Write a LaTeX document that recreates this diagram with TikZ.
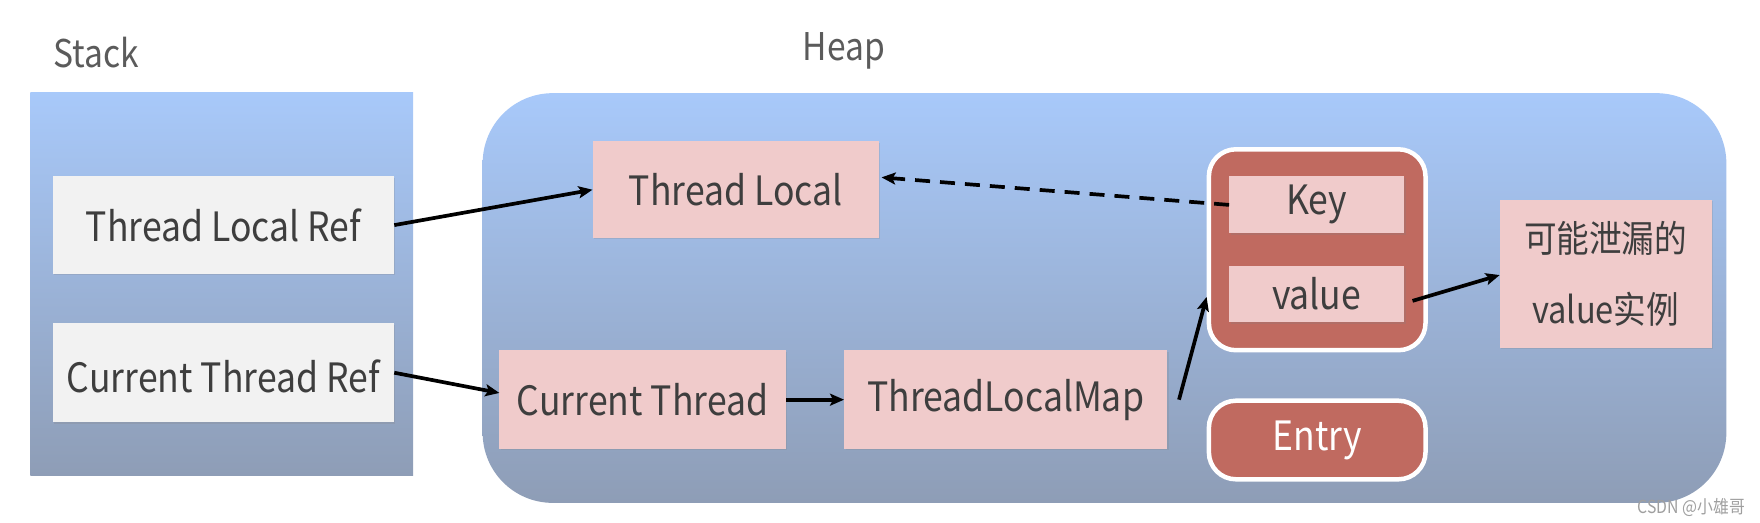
\documentclass[tikz,border=0pt]{standalone}
\usepackage{fontspec}
\setmainfont{Noto Sans CJK SC}[FakeStretch=0.88]
\usetikzlibrary{arrows.meta,shadows}
\definecolor{bluetop}{RGB}{168,201,250}
\definecolor{bluebot}{RGB}{142,157,182}
\definecolor{pinkbox}{RGB}{240,203,203}
\definecolor{graybox}{RGB}{242,242,242}
\definecolor{entryred}{RGB}{192,106,96}
\definecolor{txt}{RGB}{62,62,62}
\tikzset{
  base/.style={inner sep=0pt, text=txt, font=\fontsize{36}{42}\selectfont,
    drop shadow={opacity=0.22, shadow xshift=1.5pt, shadow yshift=-1.5pt}},
  graynode/.style={base, fill=graybox},
  pinknode/.style={base, fill=pinkbox},
  rednode/.style={base, fill=entryred, draw=white, line width=4.5pt, rounded corners=27pt, text=white, drop shadow={opacity=0}},
  arr/.style={line width=3.7pt, -{Stealth[length=14pt,width=12pt,inset=3pt]}},
  title/.style={text=txt!85, font=\fontsize{34}{40}\selectfont}
}
\begin{document}
\begin{tikzpicture}[x=1pt,y=-1pt,scale=1.1224,every node/.append style={transform shape}]
\useasboundingbox (0,0) rectangle (1568,465.07);
% containers
\shade[top color=bluetop, bottom color=bluebot] (27,82) rectangle (368,424);
\shade[top color=bluetop, bottom color=bluebot, rounded corners=70pt] (430,83) rectangle (1538,448);
\node[title] (stack) at (86,47) {Stack};
\node[title] (heap) at (752,45) {Heap};
% stack nodes
\node[graynode, minimum width=304pt, minimum height=87pt] (tlr) at (199,200.5) {Thread Local Ref};
\node[graynode, minimum width=304pt, minimum height=88pt, text height=36pt, text depth=0pt] (ctr) at (199,332) {Current Thread Ref};
% heap nodes
\node[pinknode, minimum width=255pt, minimum height=86pt] (tl) at (655.5,169) {Thread Local};
\node[pinknode, minimum width=255pt, minimum height=88pt] (ct) at (572.5,356) {Current Thread};
\node[pinknode, minimum width=288pt, minimum height=88pt] (tlm) at (896,356) {ThreadLocalMap};
\node[rednode, minimum width=193pt, minimum height=179pt] (grp) at (1173.5,222.5) {};
\node[pinknode, minimum width=156pt, minimum height=51pt] (key) at (1173,182.5) {Key};
\node[pinknode, minimum width=156pt, minimum height=50pt] (val) at (1173,262) {value};
\node[rednode, minimum width=193pt, minimum height=70pt] (entry) at (1173.5,392) {Entry};
\node[pinknode, minimum width=189pt, minimum height=132pt, align=center, font=\fontsize{33}{64}\selectfont] (inst) at (1430.5,244) {可能泄漏的\\value实例};
% arrows
\draw[arr] (tlr.east) -- (tl.west);
\draw[arr] (ctr.east) -- ([yshift=6pt]ct.west);
\draw[arr] (ct.east) -- (tlm.west);
\draw[arr] ([xshift=10pt]tlm.east) -- ([yshift=-42pt]grp.west);
\draw[arr, dashed, dash pattern=on 15pt off 10pt] (key.west) -- ([xshift=2pt,yshift=11pt]tl.east);
\draw[arr] ([xshift=7pt,yshift=-6pt]val.east) -- ([yshift=-1pt]inst.west);
% watermark
\node[text=gray!75, font=\fontsize{16}{18}\selectfont] (wm) at (1507,452) {CSDN @小雄哥};
\end{tikzpicture}
\end{document}
